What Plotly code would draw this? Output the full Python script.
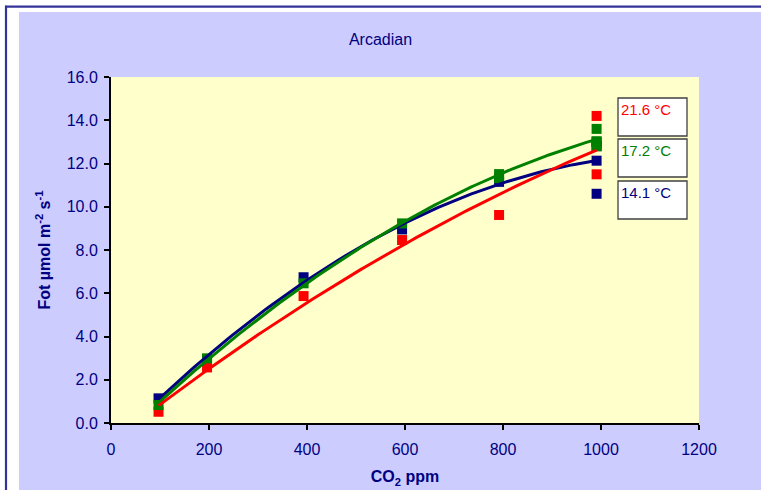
import numpy as np
import plotly.graph_objects as go

# ---------------- data ----------------
title_text = "Arcadian"
series_names = ["14.1 °C", "17.2 °C", "21.6 °C"]
series_colors = ["#000080", "#008000", "#FF0000"]

x_141 = [97, 196, 393, 594, 792, 991, 991, 991, 991]
y_141 = [1.14, 2.95, 6.74, 8.95, 11.15, 13.0, 12.8, 12.13, 10.6]

x_172 = [97, 196, 393, 594, 792, 792, 991, 991, 991]
y_172 = [0.83, 2.99, 6.46, 9.23, 11.51, 11.32, 13.6, 13.03, 12.8]

x_216 = [97, 196, 393, 594, 792, 991, 991]
y_216 = [0.52, 2.57, 5.87, 8.46, 9.62, 14.2, 11.5]

x_ticks = [0, 200, 400, 600, 800, 1000, 1200]
y_ticks = [0, 2, 4, 6, 8, 10, 12, 14, 16]

# ---------------- geometry helpers ----------------
W, H = 761, 490
L, R, T, B = 111, 699, 77, 423


def px(v):
    return (v - L) / (R - L)


def py(v):
    return (B - v) / (B - T)


fig = go.Figure()

xs = [x_141, x_172, x_216]
ys = [y_141, y_172, y_216]

# markers: blue, red, green (green on top)
for i in [0, 2, 1]:
    fig.add_trace(go.Scatter(
        x=xs[i], y=ys[i], mode="markers",
        marker=dict(symbol="square", size=10, color=series_colors[i], line=dict(width=0)),
        showlegend=False, hoverinfo="x+y"))

# polynomial (order 2) trend lines
for i in [0, 1, 2]:
    c = np.polyfit(xs[i], ys[i], 2)
    xf = np.linspace(min(xs[i]), max(xs[i]), 120)
    fig.add_trace(go.Scatter(
        x=xf, y=np.polyval(c, xf), mode="lines",
        line=dict(color=series_colors[i], width=3),
        showlegend=False, hoverinfo="skip"))

shapes = [
    # lavender chart area
    dict(type="rect", xref="paper", yref="paper", x0=px(19), x1=px(W + 5), y0=py(12), y1=py(H + 5),
         fillcolor="#CCCCFF", line=dict(width=0), layer="below"),
    # plot area
    dict(type="rect", xref="paper", yref="paper", x0=0, x1=1, y0=0, y1=1,
         fillcolor="#FFFFCC", line=dict(width=0), layer="below"),
    # outer border lines
    dict(type="line", xref="paper", yref="paper", x0=px(5), x1=px(W + 5), y0=py(6.7), y1=py(6.7),
         line=dict(color="#333399", width=2.2), layer="below"),
    dict(type="line", xref="paper", yref="paper", x0=px(6), x1=px(6), y0=py(5.7), y1=py(H + 5),
         line=dict(color="#333399", width=2.2), layer="below"),
]

boxes = [(98, 136), (139, 177), (181, 219)]
box_labels = [series_names[2], series_names[1], series_names[0]]
box_colors = [series_colors[2], series_colors[1], series_colors[0]]
annotations = []
for (y0, y1), lab, col in zip(boxes, box_labels, box_colors):
    shapes.append(dict(type="rect", xref="paper", yref="paper", x0=px(618), x1=px(687),
                       y0=py(y1), y1=py(y0), fillcolor="white",
                       line=dict(color="#404040", width=1.3), layer="above"))
    annotations.append(dict(xref="paper", yref="paper", x=px(619), y=py(y0 + 1),
                            xanchor="left", yanchor="top", showarrow=False, text=lab,
                            font=dict(family="Liberation Sans, Arial", size=15, color=col)))

fig.update_layout(
    width=W, height=H,
    margin=dict(l=L, r=W - R, t=T, b=H - B, autoexpand=False),
    paper_bgcolor="white", plot_bgcolor="rgba(0,0,0,0)",
    font=dict(family="Liberation Sans, Arial", color="#000080", size=16),
    title=dict(text=title_text, x=px(405), xanchor="center", y=1 - 39.5 / H, yanchor="middle",
               font=dict(size=16, color="#000080")),
    shapes=shapes, annotations=annotations,
    xaxis=dict(range=[0, 1200], tickvals=x_ticks, ticktext=[str(v) for v in x_ticks],
               showgrid=False, zeroline=False, showline=True, linecolor="black", linewidth=2,
               ticks="outside", ticklen=5, tickwidth=1.5, tickcolor="black",
               ticklabelstandoff=6, automargin=False,
               tickfont=dict(size=16, color="#000080"),
               title=dict(text="<b>CO<sub>2</sub> ppm</b>", standoff=14,
                          font=dict(size=16, color="#000080"))),
    yaxis=dict(range=[0, 16], tickvals=y_ticks, ticktext=[f"{v:.1f}" for v in y_ticks],
               showgrid=False, zeroline=False, showline=True, linecolor="black", linewidth=2,
               ticks="outside", ticklen=5, tickwidth=1.5, tickcolor="black",
               ticklabelstandoff=3, automargin=False,
               tickfont=dict(size=16, color="#000080"),
               title=dict(text="<b>Fot µmol m<sup>-2</sup> s<sup>-1</sup></b>", standoff=12,
                          font=dict(size=16, color="#000080"))),
)

fig.write_html("out.html")
